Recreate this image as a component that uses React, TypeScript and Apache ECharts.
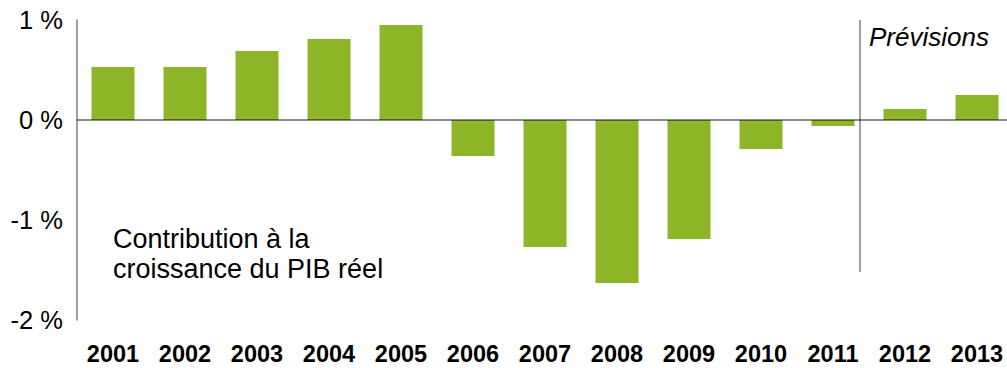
import React, { useEffect, useRef } from "react";
import * as echarts from "echarts";

const years = ["2001", "2002", "2003", "2004", "2005", "2006", "2007", "2008", "2009", "2010", "2011", "2012", "2013"];
const contribution = [0.53, 0.53, 0.69, 0.81, 0.95, -0.36, -1.27, -1.63, -1.19, -0.29, -0.06, 0.11, 0.25];
const yTicks = { min: -2, max: 1, interval: 1 };
const noteText = "Contribution à la\ncroissance du PIB réel";
const forecastText = "Prévisions";

const FONT = "'Liberation Sans', Arial, sans-serif";

export default function App() {
  const ref = useRef<HTMLDivElement>(null);
  useEffect(() => {
    if (!ref.current) return;
    const chart = echarts.init(ref.current, undefined, { renderer: "svg" });
    chart.setOption({
      animation: false,
      grid: { left: 77, right: 0, top: 20, bottom: 48, containLabel: false },
      xAxis: {
        type: "category",
        data: years,
        boundaryGap: true,
        axisLine: { show: false, onZero: false },
        axisTick: { show: false },
        axisLabel: {
          margin: 22,
          color: "#000",
          fontSize: 23.5,
          fontWeight: "bold",
          fontFamily: FONT,
          interval: 0,
        },
        splitLine: { show: false },
      },
      yAxis: {
        type: "value",
        min: yTicks.min,
        max: yTicks.max,
        interval: yTicks.interval,
        axisLine: { show: true, lineStyle: { color: "#808080", width: 1.5 } },
        axisTick: { show: false },
        splitLine: { show: false },
        axisLabel: {
          margin: 14,
          color: "#000",
          fontSize: 25.5,
          fontFamily: FONT,
          formatter: (v: number) => `${v} %`,
        },
      },
      series: [
        {
          type: "bar",
          data: contribution,
          barWidth: 43,
          itemStyle: { color: "#8cb527" },
          markLine: {
            silent: true,
            symbol: "none",
            label: { show: false },
            lineStyle: { color: "rgba(0,0,0,0.6)", width: 1.5, type: "solid" },
            data: [{ yAxis: 0 }],
            z: 10,
          },
        },
      ],
      graphic: [
        {
          type: "line",
          shape: { x1: 860, y1: 20, x2: 860, y2: 272 },
          style: { stroke: "#808080", lineWidth: 1.5 },
        },
        {
          type: "text",
          x: 869,
          y: 37,
          style: {
            text: forecastText,
            fontSize: 26,
            fontStyle: "italic",
            fontFamily: FONT,
            fill: "#000",
            textVerticalAlign: "middle",
          },
        },
        {
          type: "text",
          x: 113,
          y: 224,
          style: {
            text: noteText,
            fontSize: 27,
            lineHeight: 30,
            fontFamily: FONT,
            fill: "#000",
            textVerticalAlign: "top",
          },
        },
      ],
    });
    return () => chart.dispose();
  }, []);
  return (
    <div style={{ position: "absolute", left: 0, top: 0, width: 1007, height: 368, overflow: "hidden" }}>
      <div ref={ref} style={{ width: 1013, height: 368 }} />
    </div>
  );
}
